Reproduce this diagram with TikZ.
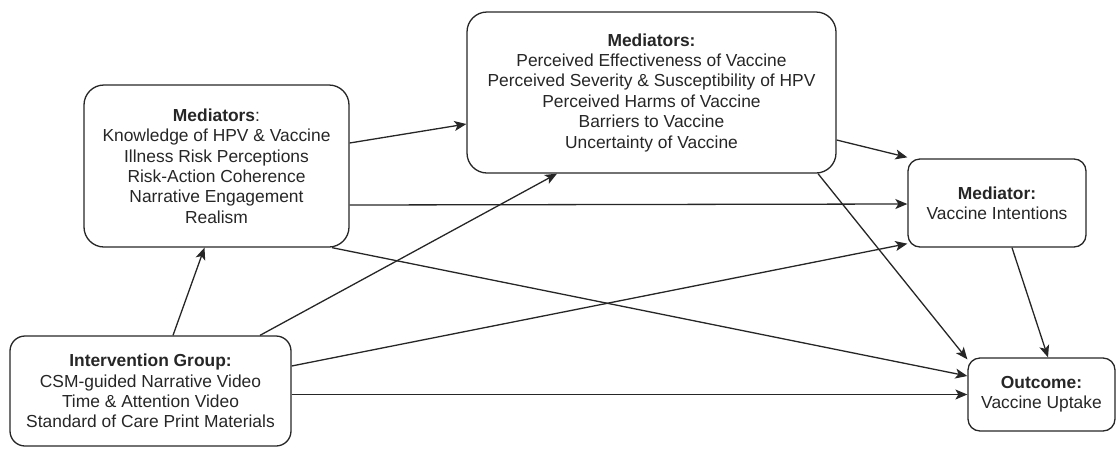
\documentclass[tikz,border=0pt]{standalone}
\usepackage{fontspec}
\setmainfont{Liberation Sans}
\usetikzlibrary{arrows.meta}

\tikzset{
	box/.style={rectangle, draw=black!85, line width=1.3pt, rounded corners=12pt, align=center, text=black!85, font=\fontsize{17.4}{20.4}\selectfont, inner sep=0pt},
	link/.style={->, line width=1.3pt, draw=black!85}
}

\begin{document}
\begin{tikzpicture}[x=1pt, y=-1pt, >={Stealth[length=12pt,width=10pt,inset=3pt]}]
		\useasboundingbox (0,0) rectangle (1117,448);

		\draw 
		(216.5,166) node [box, rounded corners=20pt, minimum width=265pt, minimum height=162pt] (med1) {\textbf{Mediators}:\\Knowledge of HPV \& Vaccine\\Illness Risk Perceptions\\Risk-Action Coherence\\Narrative Engagement\\Realism}
		(651.5,92.5) node [box, rounded corners=20pt, minimum width=369pt, minimum height=161pt] (med2) {\textbf{Mediators:}\\Perceived Effectiveness of Vaccine\\Perceived Severity \& Susceptibility of HPV\\Perceived Harms of Vaccine\\Barriers to Vaccine\\Uncertainty of Vaccine}
		(997,203) node [box, minimum width=178pt, minimum height=88pt] (intent) {\textbf{Mediator:}\\Vaccine Intentions}
		(1041.5,394.5) node [box, minimum width=147pt, minimum height=73pt] (uptake) {\textbf{Outcome:}\\Vaccine Uptake}
		(150.5,391) node [box, rounded corners=15pt, minimum width=281pt, minimum height=110pt] (group) {\textbf{Intervention Group:}\\CSM-guided Narrative Video\\Time \& Attention Video\\Standard of Care Print Materials};

		\draw[link] ([xshift=22.5pt]group.north) -- ([xshift=-12pt]med1.south);
		\draw[link] ([xshift=109.5pt]group.north) -- ([xshift=-94.5pt]med2.south);
		\draw[link] ([yshift=25pt]group.east) -- ([yshift=4pt]intent.south west);
		\draw[link] (group.east |- uptake.west) -- (uptake.west);
		\draw[link] ([yshift=23pt]med1.east) -- ([yshift=-31.5pt]med2.west);
		\draw[link] ([yshift=-39pt]med1.east) -- ([yshift=-1pt]intent.west);
		\draw[link] ([xshift=115.5pt]med1.south) -- ([yshift=18.5pt]uptake.west);
		\draw[link] ([yshift=-47.5pt]med2.east) -- ([yshift=1pt]intent.north west);
		\draw[link] ([xshift=166.5pt]med2.south) -- ([yshift=-2pt]uptake.north west);
		\draw[link] ([xshift=15pt]intent.south) -- ([xshift=6.5pt]uptake.north);
	\end{tikzpicture}
\end{document}
